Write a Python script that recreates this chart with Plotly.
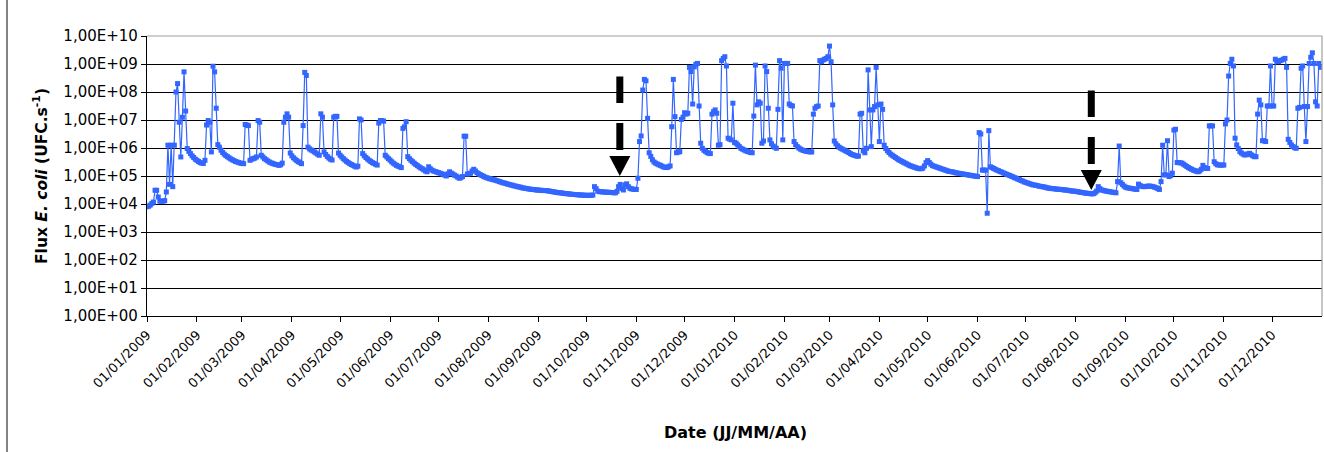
import numpy as np
import pandas as pd
import plotly.graph_objects as go

# Daily log10 of E. coli flux (UFC/s), one list per month
jan09 = [3.90,3.92,3.96,4.02,4.07,4.49,4.49,4.25,4.10,4.10,4.10,4.12,4.43,6.10,4.70,6.10,4.62,6.10,8.00,8.30,6.92,5.68,7.10,8.72,7.32,5.98,5.88,5.80,5.72,5.66,5.60]
feb09 = [5.56,5.52,5.48,5.46,5.45,5.56,6.82,6.98,6.92,5.86,8.92,8.72,7.42,6.12,6.03,5.92,5.84,5.78,5.73,5.69,5.65,5.61,5.58,5.55,5.52,5.50,5.48,5.46]
mar09 = [5.45,5.44,6.84,6.82,6.80,5.56,5.60,5.62,5.64,5.68,6.98,6.92,5.74,5.68,5.62,5.58,5.54,5.50,5.47,5.45,5.43,5.41,5.40,5.38,5.40,5.46,6.92,7.10,7.22,7.10,5.82]
apr09 = [5.72,5.65,5.60,5.55,5.51,5.48,5.44,6.80,8.70,8.59,6.03,5.97,5.93,5.90,5.86,5.82,5.78,5.74,7.22,7.10,5.86,5.77,5.70,5.64,5.60,5.57,7.10,7.13,7.13,5.82]
may09 = [5.74,5.68,5.62,5.57,5.52,5.48,5.44,5.41,5.38,5.35,5.32,5.35,7.04,7.00,5.80,5.72,5.66,5.61,5.56,5.52,5.48,5.45,5.42,5.39,6.89,6.98,6.98,6.96,5.74,5.68,5.62]
jun09 = [5.57,5.51,5.46,5.42,5.38,5.35,5.33,5.30,6.70,6.76,6.94,5.69,5.62,5.56,5.51,5.46,5.41,5.37,5.33,5.29,5.26,5.22,5.18,5.15,5.33,5.26,5.21,5.18,5.16,5.14]
jul09 = [5.12,5.10,5.08,5.06,5.03,5.00,5.08,5.15,5.10,5.07,5.03,5.00,4.96,4.92,4.94,4.98,6.42,6.42,5.07,5.08,5.10,5.18,5.24,5.18,5.12,5.08,5.05,5.02,4.99,4.96,4.94]
aug09 = [4.92,4.90,4.89,4.87,4.86,4.84,4.82,4.80,4.78,4.76,4.75,4.73,4.71,4.70,4.68,4.67,4.65,4.64,4.62,4.61,4.60,4.58,4.57,4.56,4.55,4.54,4.53,4.52,4.52,4.51,4.50]
sep09 = [4.50,4.49,4.49,4.48,4.48,4.48,4.47,4.46,4.45,4.44,4.43,4.42,4.41,4.40,4.40,4.39,4.38,4.37,4.37,4.36,4.35,4.35,4.34,4.34,4.33,4.33,4.32,4.32,4.32,4.31]
oct09 = [4.31,4.31,4.31,4.31,4.32,4.62,4.55,4.46,4.44,4.44,4.43,4.43,4.42,4.42,4.42,4.41,4.41,4.40,4.40,4.45,4.62,4.70,4.55,4.50,4.68,4.72,4.62,4.56,4.54,4.53,4.52]
nov09 = [4.52,4.92,6.23,6.43,8.07,8.45,8.40,7.06,5.83,5.70,5.58,5.50,5.46,5.43,5.40,5.38,5.35,5.32,5.31,5.30,5.33,5.36,6.76,8.45,7.12,5.83,5.85,5.87,7.02,7.10]
dec09 = [7.26,7.21,7.24,8.88,8.73,7.57,8.90,8.99,9.02,7.50,6.17,5.99,5.92,5.88,5.84,5.81,5.80,7.21,7.30,7.36,7.24,6.10,6.12,9.12,9.20,9.26,8.93,6.35,6.32,6.29,7.60]
jan10 = [6.20,6.17,6.11,6.05,5.99,5.96,5.93,5.90,5.88,5.86,5.84,5.83,7.14,8.96,7.54,7.65,7.60,6.17,6.25,8.93,8.73,7.42,6.29,6.15,6.07,6.03,5.99,7.38,9.12,8.85,6.29]
feb10 = [9.02,9.02,9.02,7.57,7.52,7.50,6.23,6.12,6.05,6.00,5.96,5.93,5.91,5.89,5.88,5.87,5.86,5.86,7.21,7.42,7.48,7.50,9.12,9.08,9.14,9.17,9.20,9.26]
mar10 = [9.64,9.08,7.54,6.25,6.15,6.08,6.03,5.99,5.96,5.93,5.90,5.87,5.84,5.80,5.77,5.75,5.73,5.71,5.71,7.21,7.24,5.90,5.83,5.99,8.79,7.36,6.05,7.36,7.48,8.88,7.54]
apr10 = [6.23,7.57,7.38,6.10,5.98,5.90,5.84,5.78,5.74,5.70,5.66,5.62,5.58,5.55,5.52,5.49,5.46,5.43,5.40,5.37,5.35,5.33,5.31,5.29,5.27,5.26,5.26,5.28,5.36,5.48]
may10 = [5.55,5.48,5.42,5.37,5.35,5.33,5.31,5.29,5.27,5.25,5.23,5.21,5.19,5.17,5.16,5.15,5.14,5.12,5.11,5.10,5.09,5.08,5.07,5.06,5.05,5.04,5.03,5.02,5.01,5.00,4.99]
jun10 = [4.98,6.55,6.50,5.21,5.21,5.21,3.67,6.62,5.33,5.30,5.27,5.24,5.21,5.19,5.16,5.14,5.11,5.09,5.06,5.04,5.02,4.99,4.97,4.94,4.92,4.89,4.87,4.84,4.82,4.79]
jul10 = [4.77,4.75,4.73,4.71,4.69,4.68,4.67,4.66,4.64,4.63,4.62,4.61,4.60,4.58,4.57,4.56,4.55,4.55,4.54,4.53,4.53,4.52,4.52,4.51,4.50,4.50,4.49,4.48,4.47,4.46,4.46]
aug10 = [4.45,4.44,4.43,4.42,4.41,4.40,4.39,4.38,4.38,4.37,4.36,4.37,4.40,4.46,4.62,4.55,4.50,4.49,4.47,4.46,4.45,4.44,4.43,4.42,4.41,4.40,4.80,6.07,4.76,4.70,4.64]
sep10 = [4.60,4.58,4.57,4.56,4.55,4.54,4.53,4.52,4.71,4.66,4.63,4.62,4.62,4.63,4.64,4.64,4.63,4.62,4.60,4.58,4.55,4.52,4.80,6.10,5.04,5.04,6.26,4.98,5.02,5.10]
oct10 = [6.64,6.67,5.48,5.48,5.47,5.46,5.42,5.38,5.34,5.30,5.27,5.24,5.21,5.19,5.17,5.15,5.18,5.24,5.38,5.30,5.27,5.27,6.79,6.79,6.79,5.51,5.44,5.40,5.39,5.39,5.39]
nov10 = [5.39,6.86,7.00,8.57,9.02,9.17,8.93,6.35,6.11,5.98,5.87,5.82,5.78,5.75,5.76,5.79,5.81,5.76,5.72,5.69,5.69,7.21,7.71,7.54,6.26,6.26,6.23,7.50,7.50,8.93]
dec10 = [7.50,7.50,9.17,9.10,9.08,9.12,9.14,9.17,9.20,8.88,6.31,6.20,6.11,6.05,6.01,5.99,7.42,7.45,8.85,8.93,7.48,6.23,7.48,9.02,9.24,9.40,9.02,7.65,7.50,9.02,8.88]

start_date = "2009-01-01"
x_range = ["2009-01-01", "2011-01-01"]
y_tick_exponents = [0, 1, 2, 3, 4, 5, 6, 7, 8, 9, 10]
y_tick_labels = ["1,00E+00", "1,00E+01", "1,00E+02", "1,00E+03", "1,00E+04", "1,00E+05",
                 "1,00E+06", "1,00E+07", "1,00E+08", "1,00E+09", "1,00E+10"]
# dashed downward arrows (date, flux value at arrow tip)
arrow_dates = ["2009-10-21 18:00", "2010-08-10 16:00"]
arrow_tips = [1.0e5, 3.16e4]

months = [jan09, feb09, mar09, apr09, may09, jun09, jul09, aug09, sep09, oct09, nov09, dec09,
          jan10, feb10, mar10, apr10, may10, jun10, jul10, aug10, sep10, oct10, nov10, dec10]
log_flux = np.concatenate([np.array(m, dtype=float) for m in months])
dates = pd.date_range(start_date, periods=len(log_flux), freq="D")
flux = 10 ** log_flux

BLUE = "#3366FF"
FONT = "DejaVu Sans"
Y_MIN, Y_MAX = y_tick_exponents[0], y_tick_exponents[-1]
W, H = 1324, 452
ML, MR, MT, MB = 147, 2, 36, 136
PW, PH = W - ML - MR, H - MT - MB

fig = go.Figure()
fig.add_trace(go.Scatter(
    x=dates, y=flux, mode="lines+markers",
    line=dict(color=BLUE, width=1.2),
    marker=dict(symbol="square", size=5, color=BLUE),
    showlegend=False, hoverinfo="x+y",
))

shapes = []
for d, tip in zip(arrow_dates, arrow_tips):
    # paper-fraction height of the arrow tip on the log axis
    ya = (np.log10(tip) - Y_MIN) / (Y_MAX - Y_MIN)
    common = dict(xref="x", yref="paper", xsizemode="pixel", ysizemode="pixel",
                  xanchor=d, yanchor=float(ya), fillcolor="black", line=dict(width=0),
                  layer="above")
    shapes.append(dict(type="rect", x0=-3.5, x1=3.5, y0=26, y1=53, **common))
    shapes.append(dict(type="rect", x0=-3.5, x1=3.5, y0=73, y1=99.5, **common))
    shapes.append(dict(type="path", path="M -10.5,20 L 10.5,20 L 0,0 Z", **common))

# plot-area border (grey top and right edges, as in the original)
shapes.append(dict(type="line", xref="paper", yref="paper", x0=0, x1=1, y0=1, y1=1,
                   line=dict(color="#A0A0A0", width=1.2), layer="above"))
shapes.append(dict(type="line", xref="paper", yref="paper", x0=1, x1=1, y0=0, y1=1,
                   line=dict(color="#A0A0A0", width=1.2), layer="above"))
# left edge of the chart frame
fx = (7 - ML) / PW
shapes.append(dict(type="line", xref="paper", yref="paper", x0=fx, x1=fx,
                   y0=-MB / PH, y1=(PH + MT) / PH,
                   line=dict(color="#303030", width=1.2), layer="above"))

fig.update_layout(
    width=W, height=H,
    margin=dict(l=ML, r=MR, t=MT, b=MB, autoexpand=False),
    paper_bgcolor="white", plot_bgcolor="white",
    font=dict(family=FONT, size=14, color="black"),
    shapes=shapes,
    annotations=[
        dict(text="<b>Flux <i>E. coli</i> (UFC.s<sup>-1</sup>)</b>", xref="paper", yref="paper",
             x=(40 - ML) / PW, y=0.5, xanchor="center", yanchor="middle",
             textangle=-90, showarrow=False, font=dict(family=FONT, size=15.5, color="black")),
        dict(text="<b>Date (JJ/MM/AA)</b>", xref="paper", yref="paper",
             x=(735 - ML) / PW, y=-(432 - MT - PH) / PH, xanchor="center", yanchor="middle",
             showarrow=False, font=dict(family=FONT, size=16, color="black")),
    ],
)

fig.update_xaxes(
    type="date", range=x_range, automargin=False,
    tickvals=pd.date_range(start_date, periods=24, freq="MS"),
    tickformat="%d/%m/%Y", tickangle=-45,
    ticks="outside", ticklen=5, tickcolor="black",
    showline=True, linecolor="black", linewidth=1.2,
    showgrid=False, zeroline=False,
    tickfont=dict(family=FONT, size=13, color="black"),
)
fig.update_yaxes(
    type="log", range=[Y_MIN, Y_MAX], automargin=False,
    tickvals=[10.0 ** k for k in y_tick_exponents], ticktext=y_tick_labels,
    ticks="outside", ticklen=5, tickcolor="black",
    showline=True, linecolor="black", linewidth=1.2,
    showgrid=True, gridcolor="black", gridwidth=1,
    zeroline=False,
    tickfont=dict(family=FONT, size=15, color="black"),
)

# remove the browser's default 8px page margin so the figure fills the window exactly
fig.write_html("out.html", config={"displayModeBar": False},
               post_script="document.body.style.margin='0px';")
